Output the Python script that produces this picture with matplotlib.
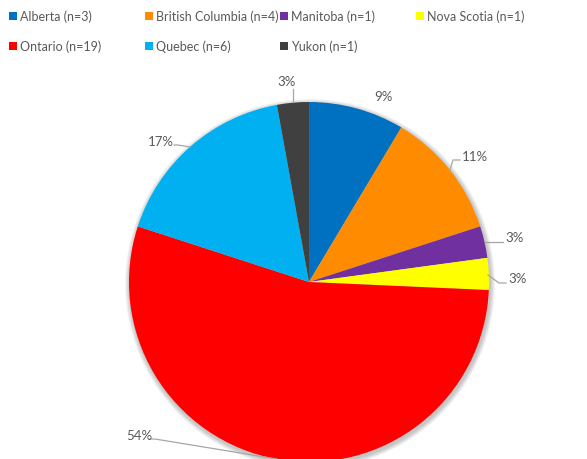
import matplotlib.pyplot as plt
from matplotlib.patches import Circle, Rectangle

provinces = ["Alberta", "British Columbia", "Manitoba", "Nova Scotia", "Ontario", "Quebec", "Yukon"]
counts = [3, 4, 1, 1, 19, 6, 1]
colors = ["#0070C0", "#FF8C00", "#7030A0", "#FFFF00", "#FF0000", "#00B0F0", "#404040"]

plt.rcParams['font.family'] = ['Lato', 'DejaVu Sans']
txt_color = "#595959"

W, H = 587, 460
fig = plt.figure(figsize=(W / 100, H / 100), dpi=100)
ax = fig.add_axes([0, 0, 1, 1])

# work in pixel coords (y measured from top, flipped into data)
cx, cy, r = 309, H - 283, 180

# soft shadow
for k in range(6):
    ax.add_patch(Circle((cx + 1, cy - 2), r + 1 + k * 0.8, color="black", alpha=0.04, lw=0, zorder=0))

wedges, _ = ax.pie(counts, colors=colors, startangle=90, counterclock=False,
                   center=(cx, cy), radius=r, frame=True,
                   wedgeprops=dict(linewidth=0))
for w in wedges:
    w.set_zorder(2)

total = sum(counts)
pcts = ["%d%%" % round(100 * c / total) for c in counts]

# label leader lines (pixel coords, y from top) and label anchors
lines = [
    None,
    [(450, 171), (453, 161), (460, 161)],
    [(485, 243), (503, 243)],
    [(488, 276), (499, 284), (506, 284)],
    [(277, 460), (155, 440), (150, 440)],
    [(190, 148), (178, 146), (174, 146)],
    [(293, 103), (293, 90)],
]
label_pos = [(383, 97, "center", "center"),
             (462, 157, "left", "center"),
             (505, 238, "left", "center"),
             (508, 279, "left", "center"),
             (152, 436, "right", "center"),
             (174, 142, "right", "center"),
             (287, 82, "center", "center")]

for pct, ln, (lx, ly, ha, va) in zip(pcts, lines, label_pos):
    if ln:
        ax.plot([p[0] for p in ln], [H - p[1] for p in ln], color="#A6A6A6", lw=0.9, zorder=3)
    ax.text(lx, H - ly, pct, ha=ha, va=va, fontsize=9.5, color=txt_color, zorder=4)

ax.set_xlim(0, W)
ax.set_ylim(0, H)
ax.set_aspect("equal")
ax.axis("off")

# legend, Excel-style equal columns
col_w = 135.5
for i, (name, n, c) in enumerate(zip(provinces, counts, colors)):
    row, col = divmod(i, 4)
    x0 = 9 + col * col_w
    y0 = 13 + row * 30
    ax.add_patch(Rectangle((x0, H - y0 - 7.5), 8, 7.5, color=c, lw=0, clip_on=False))
    ax.text(x0 + 11, H - y0 - 4, "%s (n=%d)" % (name, n), ha="left", va="center",
            fontsize=9.0, color=txt_color)

fig.savefig("out.png", dpi=100)
